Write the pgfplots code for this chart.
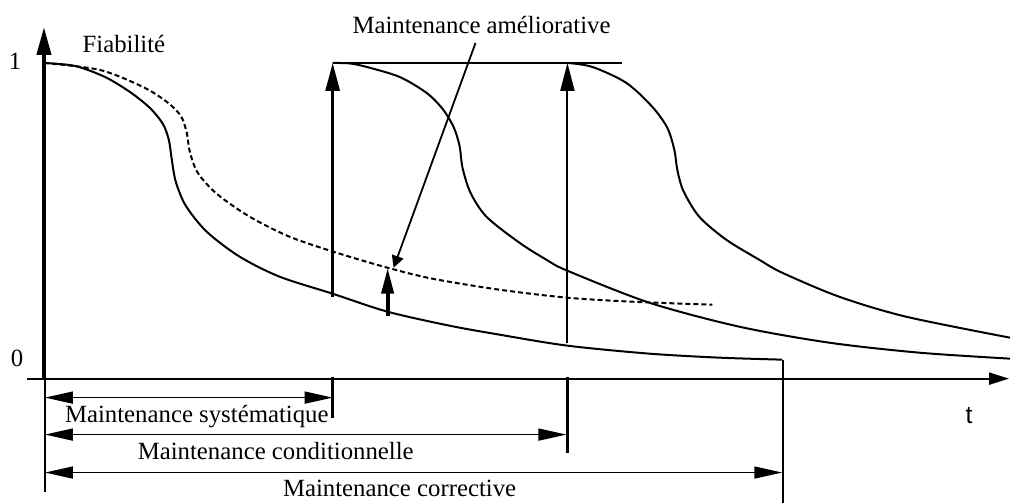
\documentclass[border=0pt]{standalone}
\usepackage{fontspec}
\setmainfont{Liberation Serif}
\newfontfamily\sansf{Liberation Sans}
\usepackage{pgfplots}
\pgfplotsset{compat=1.18}
\usetikzlibrary{arrows.meta}
\newcommand{\fs}{\fontsize{12.4}{14}\selectfont}

\begin{document}
\fs
\begin{tikzpicture}
\begin{axis}[scale only axis, width=505.5pt, height=251.5pt,
  xmin=0, xmax=1011, ymin=0, ymax=503, y dir=reverse,
  hide axis, clip=false]
\path (axis cs:0,0) rectangle (axis cs:1011,503);

% Y axis (thick) and its thin continuation
\addplot[black, line width=2pt, mark=none, -{Triangle[length=14pt,width=7pt]}] coordinates {(44,380) (44,27)};
\addplot[black, line width=0.9pt, mark=none] coordinates {(45,380) (45,492)};
% X axis
\addplot[black, line width=1pt, mark=none, -{Triangle[length=10pt,width=6pt]}] coordinates {(27,379) (1010,379)};

% Curve A (solid)
\addplot[black, line width=1pt, mark=none, smooth, tension=0.5] coordinates {
(44,63) (75,66) (105,77) (130,92) (150,108) (163,124) (169,140) (172,160) (176,182) (186,206) (207,232) (240,257) (280,277) (333,294) (388,312) (450,326) (500,335) (568,346) (650,354) (720,358) (783,360)};
\addplot[black, line width=0.9pt, mark=none] coordinates {(784,360) (784,503)};

% Dashed curve
\addplot[black, line width=1pt, mark=none, smooth, tension=0.5, dash pattern=on 2.5pt off 1.5pt] coordinates {
(44,63) (100,70) (143,87) (167,102) (181,116) (187,133) (190,152) (198,173) (217,194) (250,217) (290,237) (337,253) (388,268) (433,279) (500,290) (568,298) (633,302) (713,305)};

% Curve B
\addplot[black, line width=1pt, mark=none, smooth, tension=0.5] coordinates {
(333,63) (350,63.5) (367,67) (400,77) (427,93) (443,109) (454,127) (460,146) (463,168) (471,193) (487,217) (520,243) (547,260) (568,271) (650,303) (740,327) (830,343) (920,353) (1011,359)};

% Curve C
\addplot[black, line width=1pt, mark=none, smooth, tension=0.5] coordinates {
(568,63) (593,67) (627,83) (653,107) (668,128) (675,150) (678,170) (684,191) (700,217) (727,240) (760,260) (783,273) (840,297) (907,317) (1011,338)};

% Top horizontal line
\addplot[black, line width=1pt, mark=none] coordinates {(333,63) (623,63)};

% Vertical arrows up to 1
\addplot[black, line width=1.5pt, mark=none, -{Triangle[length=14pt,width=7pt]}] coordinates {(333,297) (333,63)};
\addplot[black, line width=1pt, mark=none, -{Triangle[length=14pt,width=7pt]}] coordinates {(568,343) (568,63)};

% Améliorative pointer and small up arrow
\addplot[black, line width=0.9pt, mark=none, -{Triangle[length=6pt,width=6pt]}] coordinates {(476,43) (394,268)};
\addplot[black, line width=2pt, mark=none, -{Triangle[length=13pt,width=6pt]}] coordinates {(388,316) (388,268)};

% Ticks below axis
\addplot[black, line width=1.5pt, mark=none] coordinates {(333,377) (333,418)};
\addplot[black, line width=1.5pt, mark=none] coordinates {(568,377) (568,453)};

% Dimension arrows
\addplot[black, line width=0.8pt, mark=none, {Triangle[length=14pt,width=6pt]}-{Triangle[length=14pt,width=6pt]}] coordinates {(45,398) (333,398)};
\addplot[black, line width=0.8pt, mark=none, {Triangle[length=14pt,width=6pt]}-{Triangle[length=14pt,width=6pt]}] coordinates {(45,435) (567,435)};
\addplot[black, line width=0.8pt, mark=none, {Triangle[length=14pt,width=6pt]}-{Triangle[length=14pt,width=6pt]}] coordinates {(45,473) (783,473)};

% Texts
\node[anchor=base, inner sep=0pt, font=\fs] at (axis cs:15,70) {1};
\node[anchor=base, inner sep=0pt, font=\fs] at (axis cs:17,367) {0};
\node[anchor=base, inner sep=0pt, font=\fs] at (axis cs:124,53) {Fiabilité};
\node[anchor=base, inner sep=0pt, font=\fs] at (axis cs:482,34) {Maintenance améliorative};
\node[anchor=base, inner sep=0pt, font=\fs\sansf] at (axis cs:970,424) {t};
\node[anchor=base, inner sep=0pt, font=\fs] at (axis cs:197,423) {Maintenance systématique};
\node[anchor=base, inner sep=0pt, font=\fs] at (axis cs:276,460) {Maintenance conditionnelle};
\node[anchor=base, inner sep=0pt, font=\fs] at (axis cs:400,497) {Maintenance corrective};
\end{axis}
\end{tikzpicture}
\end{document}
